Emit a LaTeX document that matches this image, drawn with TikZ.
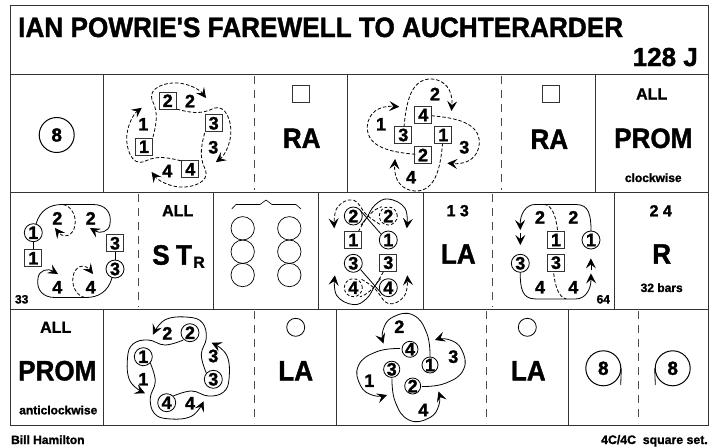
\documentclass[tikz,border=0pt]{standalone}
\usepackage{fontspec}
\setmainfont{Liberation Sans}[BoldFeatures={FakeBold=1.4}]
\newfontfamily\titlefont{Liberation Sans}[BoldFeatures={FakeBold=1.4}]
\usetikzlibrary{arrows.meta}
\tikzset{
	rule/.style={line width=0.9pt, black!80},
	ruledash/.style={line width=0.9pt, black!70, dash pattern=on 8pt off 6pt},
	man/.style={draw, black!80, text=black, line width=0.8pt, minimum size=17pt, inner sep=0pt, font=\fontsize{18}{18}\bfseries},
	lady/.style={draw, circle, line width=0.8pt, minimum size=18pt, inner sep=0pt, font=\fontsize{18}{18}\bfseries},
	num/.style={inner sep=0pt, font=\fontsize{18}{18}\bfseries},
	big/.style={inner sep=0pt, xscale=0.93, transform shape, font=\fontsize{28}{28}\bfseries},
	mid/.style={inner sep=0pt, font=\fontsize{16}{16}\bfseries},
	small/.style={inner sep=0pt, font=\fontsize{12}{12}\bfseries},
	bar/.style={draw, circle, line width=1pt, minimum size=35pt, inner sep=0pt, font=\fontsize{19}{19}\bfseries},
	track/.style={line width=0.8pt, -{Stealth[length=10pt,width=10pt,inset=4pt]}},
	plain/.style={line width=0.8pt},
	back/.style={line width=0.8pt, dash pattern=on 3.5pt off 2pt},
	backtip/.style={back, -{Stealth[length=10pt,width=10pt,inset=4pt]}}
}
\begin{document}
\begin{tikzpicture}[x=1pt, y=-1pt]
	\useasboundingbox (0,0) rectangle (718,447);
	% frame
	\draw[rule] (10,5) rectangle (708,425);
	\draw[rule] (10,74) -- (708,74) (10,192) -- (708,192) (10,309) -- (708,309);
	\foreach \x in {103,347.5,595} {
		\draw[rule] (\x,74) -- (\x,192);
	}
	\foreach \x in {213.5,318.5,423,614} {
		\draw[rule] (\x,192) -- (\x,309);
	}
	\foreach \x in {103,336,568} {
		\draw[rule] (\x,309) -- (\x,425);
	}
	\draw[ruledash] (254.5,76) -- (254.5,190);
	\draw[ruledash] (501.7,76) -- (501.7,190);
	\draw[ruledash] (138.5,194) -- (138.5,307);
	\draw[ruledash] (492.7,194) -- (492.7,307);
	\draw[ruledash] (254.5,311) -- (254.5,423);
	\draw[ruledash] (486.7,311) -- (486.7,423);
	\draw[ruledash] (638,311) -- (638,423);
	% title
	\node[anchor=base west, inner sep=0pt, xscale=0.935, transform shape, font=\titlefont\fontsize{28}{28}\bfseries] (title) at (18,37) {IAN POWRIE'S FAREWELL TO AUCHTERARDER};
	\node[anchor=base east, inner sep=0pt, font=\fontsize{26}{26}\bfseries] (barcount) at (698,66) {128 J};
	\node[anchor=base west, inner sep=0pt, font=\fontsize{12}{12}\bfseries] (deviser) at (11,444) {Bill Hamilton};
	\node[anchor=base east, inner sep=0pt, font=\fontsize{12.3}{12.3}\bfseries] (setform) at (708,444) {4C/4C\ \ square set.};
	% row 1
	\node[bar] (eightA) at (56.7,135) {8};
	\foreach \a in {0,-90,-180,-270} {
		\draw[backtip, rotate around={\a:(178.8,135)}] (153,137) .. controls (158,118) and (157,110) .. (152,100) .. controls (148,88) and (165,82) .. (178,83) .. controls (190,84) and (200,90) .. (206,98);
	}
	\node[man] (sa1) at (144,146.7) {1};
	\node[man] (sa2) at (167.7,100.7) {2};
	\node[man] (sa3) at (213.7,123.3) {3};
	\node[man] (sa4) at (190.3,169.3) {4};
	\node[num] (na1) at (143.3,124.3) {1};
	\node[num] (na2) at (190,101) {2};
	\node[num] (na3) at (213.3,147.3) {3};
	\node[num] (na4) at (167.3,171) {4};
	\node[man] (markA) at (301,94.3) {};
	\node[big] (raA) at (301.7,138.3) {RA};
	\foreach \a in {0,-90,-180,-270} {
		\draw[backtip, rotate around={\a:(423.3,135)}] (404,127) .. controls (406,105) and (410,78) .. (432,79) .. controls (445,80) and (453,90) .. (451.5,111);
	}
	\node[man] (sb4) at (423.3,115) {4};
	\node[man] (sb3) at (403.3,135) {3};
	\node[man] (sb1) at (443.3,135) {1};
	\node[man] (sb2) at (423,155) {2};
	\node[num] (nb2) at (435,94) {2};
	\node[num] (nb1) at (381,124.3) {1};
	\node[num] (nb3) at (464.3,147.3) {3};
	\node[num] (nb4) at (411,177.3) {4};
	\node[man] (markB) at (550.7,94.3) {};
	\node[big] (raB) at (549.3,139.3) {RA};
	\node[mid] (allA) at (651.7,94) {ALL};
	\node[big] (promA) at (653.3,138.3) {PROM};
	\node[small] (cw) at (653.3,177.7) {clockwise};
	% row 2
	\foreach \a in {0,180} {
		\begin{scope}[rotate around={\a:(74,251)}]
			\draw[track] (36,224) .. controls (40,210) and (50,204.5) .. (62,204.5) -- (93,204.5) .. controls (105,204.5) and (112,212) .. (110,224) .. controls (109,232) and (100,234) .. (90,228);
			\draw[backtip] (63,204.5) .. controls (72,206) and (78,218) .. (74,229) .. controls (70,238) and (62,237) .. (55,228);
		\end{scope}
	}
	\node[lady] (cl1) at (33.3,232.7) {1};
	\node[man] (cm1) at (33.3,258.3) {1};
	\node[man] (cm3) at (115,243.3) {3};
	\node[lady] (cl3) at (115,269) {3};
	\draw[plain] (cl1) -- (cm1);
	\draw[plain] (cm3) -- (cl3);
	\node[num] (nc2a) at (57.3,218.3) {2};
	\node[num] (nc2b) at (90.7,218.3) {2};
	\node[num] (nc4a) at (57.3,287.3) {4};
	\node[num] (nc4b) at (90.7,287.3) {4};
	\node[small] (bar33) at (21.7,299.3) {33};
	\node[mid] (allB) at (177.7,210.7) {ALL};
	\node[big] (stS) at (161,255) {S};
	\node[big] (stT) at (184,255) {T};
	\node[mid] (stR) at (199,262.3) {R};
	% chords
	\draw[line width=0.6pt] (231.7,209) -- (236,204.5) -- (260,204.5) -- (266,200) -- (272,204.5) -- (296,204.5) -- (301,209);
	\foreach \x in {242.7,289.3} {
		\foreach \y in {228.3,251.7,275} {
			\draw[line width=0.7pt] (\x,\y) circle (11.7);
		}
	}
	% reels
	\foreach \a in {0,180} {
		\begin{scope}[rotate around={\a:(370.8,251.8)}]
			\draw[plain] plot[smooth, tension=0.5] coordinates {(381,234) (366.7,217.7) (359.3,209.3)};
			\draw[track] plot[smooth, tension=0.7] coordinates {(361,225) (366.7,217.7) (375,205) (388.3,199) (405,208.3) (406.7,228.3)};
			\draw[back] plot[smooth, tension=0.5] coordinates {(358.3,231.7) (366.7,217.7) (375,210) (381.7,206.7)};
			\draw[backtip] plot[smooth, tension=0.7] coordinates {(380,224.3) (366.7,215) (353.3,200) (337,208) (334.3,228.3)};
		\end{scope}
	}
	\node[lady, fill=white] (dl2a) at (353.3,216) {2};
	\node[lady, fill=white, dash pattern=on 3pt off 2pt] (dl2b) at (388.3,216) {2};
	\node[man, fill=white] (dm1) at (353.3,240) {1};
	\node[lady, fill=white] (dl1) at (388.3,240) {1};
	\node[lady, fill=white] (dl3) at (353.3,263.3) {3};
	\node[man, fill=white] (dm3) at (388.3,262.7) {3};
	\node[lady, fill=white, dash pattern=on 3pt off 2pt] (dl4a) at (353.3,287.7) {4};
	\node[lady, fill=white] (dl4b) at (388.3,287.7) {4};
	\node[mid] (tops) at (457.7,210.7) {1 3};
	\node[big] (laA) at (458.3,254) {LA};
	\foreach \a in {0,180} {
		\begin{scope}[rotate around={\a:(555.6,251.7)}]
			\draw[track] (591,231) .. controls (591,215) and (589,204.5) .. (576,204.5) -- (535,204.5) .. controls (526,204.5) and (520,214) .. (520.3,230);
			\draw[back] (557.5,230) .. controls (556,216) and (552,206) .. (545,204.5);
			\draw[track] (520.3,233) -- (520.3,245);
		\end{scope}
	}
	\node[lady] (el3) at (520.3,263.3) {3};
	\node[man] (em1) at (556,240) {1};
	\node[lady] (el1) at (591,240) {1};
	\node[man] (em3) at (556,262.7) {3};
	\node[num] (ne2a) at (540,217.3) {2};
	\node[num] (ne2b) at (573.3,217.3) {2};
	\node[num] (ne4a) at (540,287.3) {4};
	\node[num] (ne4b) at (573.3,287.3) {4};
	\node[small] (bar64) at (603.3,299.3) {64};
	\node[mid] (sides) at (660.7,210.7) {2 4};
	\node[big] (rr) at (661.7,254) {R};
	\node[small] (bars) at (661.7,287.7) {32 bars};
	% row 3
	\node[mid] (allC) at (55.7,327.3) {ALL};
	\node[big] (promB) at (57.3,370.7) {PROM};
	\node[small] (acw) at (58.3,410) {anticlockwise};
	\foreach \a in {0,90,180,270} {
		\draw[track, rotate around={\a:(178.3,368)}] plot[smooth, tension=0.7] coordinates {(183.3,340) (165,345) (148.3,340) (133,344) (127.5,358) (130,381) (145,393.3)};
	}
	\node[lady] (fl1) at (143.3,356.7) {1};
	\node[lady] (fl2) at (190,332.7) {2};
	\node[lady] (fl3) at (213.3,379.3) {3};
	\node[lady] (fl4) at (166.7,402.7) {4};
	\node[num] (nf1) at (143.3,379.3) {1};
	\node[num] (nf2) at (167.3,333.3) {2};
	\node[num] (nf3) at (213.3,356) {3};
	\node[num] (nf4) at (190,403.3) {4};
	\node[lady] (markC) at (295.7,327.3) {};
	\node[big] (laB) at (295.7,370.7) {LA};
	\foreach \a in {0,90,180,270} {
		\draw[track, rotate around={\a:(411,367.5)}] plot[smooth, tension=0.8] coordinates {(430,356.5) (426.7,333) (413,315) (393,317) (383,330) (383.5,343.5)};
	}
	\node[lady, minimum size=16pt] (gl4) at (410,349.3) {4};
	\node[lady, minimum size=16pt] (gl3) at (391.7,369.3) {3};
	\node[lady, minimum size=16pt] (gl1) at (430,365) {1};
	\node[lady, minimum size=16pt] (gl2) at (412.7,386) {2};
	\node[num] (ng2) at (399.3,326.7) {2};
	\node[num] (ng1) at (369.3,380.7) {1};
	\node[num] (ng3) at (453.3,356.7) {3};
	\node[num] (ng4) at (423.3,410) {4};
	\node[lady] (markD) at (527.3,327.3) {};
	\node[big] (laC) at (528.3,370.7) {LA};
	\node[bar] (eightB) at (603.3,368.3) {8};
	\node[bar] (eightC) at (672.7,368.3) {8};
	\coordinate (hookB) at (620.7,385);
	\coordinate (hookC) at (655.3,385);
	\draw[plain] (eightB.east) -- (hookB);
	\draw[plain] (eightC.west) -- (hookC);
\end{tikzpicture}
\end{document}
